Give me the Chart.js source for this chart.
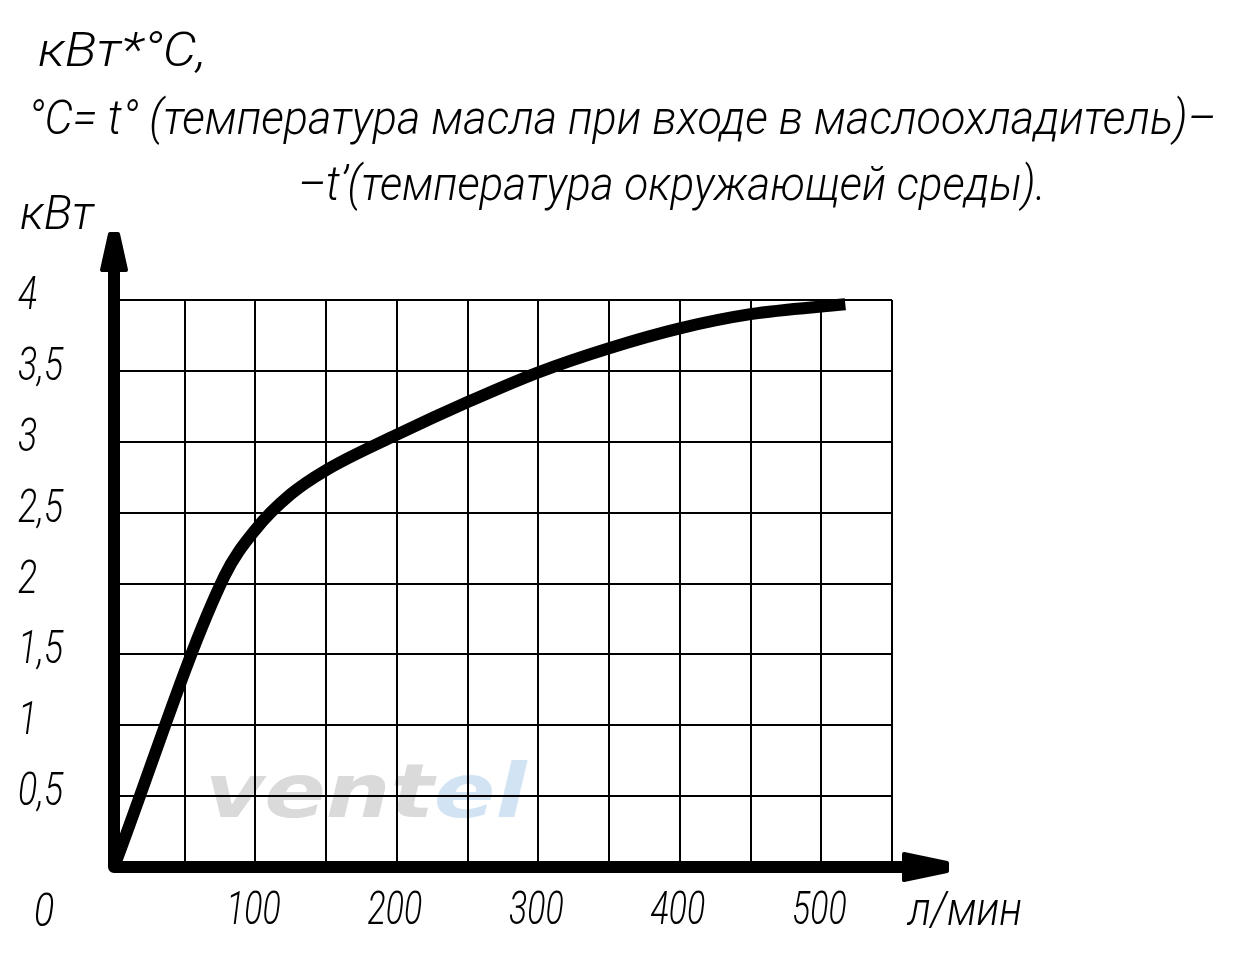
<!DOCTYPE html>
<html>
<head>
<meta charset="utf-8">
<script src="https://cdn.jsdelivr.net/npm/chart.js@4.4.1/dist/chart.umd.min.js"></script>
<style>
  body { margin: 0; background: #fff; }
  #wrap { position: relative; width: 1245px; height: 955px; overflow: hidden; }
  #chart { position: absolute; left: 0; top: 0; }
  .lbl {
    position: absolute; white-space: nowrap;
    font-family: Roboto, 'DejaVu Sans', sans-serif;
    font-style: italic; font-weight: 300;
    font-size: 48px; line-height: 48px; color: #000;
    transform-origin: 0 0;
  }
  #wm {
    position: absolute; white-space: nowrap;
    font-family: 'DejaVu Sans', sans-serif; font-style: italic; font-weight: 900;
    font-size: 75px; line-height: 75px; transform-origin: 0 0;
  }
</style>
</head>
<body>
<div id="wrap">
  <div id="wm"><span style="color:#dadada">vent</span><span style="color:#d2e4f3">el</span></div>
  <canvas id="chart" width="1245" height="955"></canvas>
  <div class="lbl" id="t1"></div>
  <div class="lbl" id="t2"></div>
  <div class="lbl" id="t3"></div>
  <div class="lbl" id="yunit"></div>
  <div class="lbl" id="xunit"></div>
</div>
<script>
// flow, l/min
var flowLpm = [0, 78, 100, 125, 150, 200, 250, 300, 350, 400, 450, 517];
// heat removed, kW*°C
var powerKw = [0, 2.05, 2.38, 2.63, 2.80, 3.05, 3.28, 3.49, 3.66, 3.80, 3.90, 3.97];

var xTickValues = [100, 200, 300, 400, 500];
var xTickLabels = ['100', '200', '300', '400', '500'];
var yTickValues = [0.5, 1, 1.5, 2, 2.5, 3, 3.5, 4];
var yTickLabels = ['0,5', '1', '1,5', '2', '2,5', '3', '3,5', '4'];
var zeroLabel = '0';

var titleLines = [
  'кВт*°С,',
  '°С= t° (температура масла при входе в маслоохладитель)–',
  '–t’(температура окружающей среды).'
];
var yUnit = 'кВт';
var xUnit = 'л/мин';

// put an html label at left x / baseline y and squeeze it to a given width
function placeLabel(id, text, x, baseline, width) {
  var el = document.getElementById(id);
  el.textContent = text;
  el.style.left = x + 'px';
  el.style.top = (baseline - 40) + 'px';
  el.style.transform = 'scaleX(' + (width / el.offsetWidth) + ')';
}

placeLabel('t1', titleLines[0], 38, 66, 168);
placeLabel('t2', titleLines[1], 28, 134, 1188);
placeLabel('t3', titleLines[2], 298, 200, 748);
placeLabel('yunit', yUnit, 20, 229, 74);
placeLabel('xunit', xUnit, 908, 925, 114);

var wm = document.getElementById('wm');
wm.style.left = '205px';
wm.style.top = '754px';
wm.style.transform = 'scaleX(' + (322 / wm.offsetWidth) + ')';

function drawSqueezed(ctx, text, x, y, sx, align) {
  ctx.save();
  ctx.translate(x, y);
  ctx.scale(sx, 1);
  ctx.textAlign = align;
  ctx.fillText(text, 0, 0);
  ctx.restore();
}

// thick axes with arrow heads + tick numbers
var axesPlugin = {
  id: 'axes',
  afterDatasetsDraw: function(chart) {
    var ctx = chart.ctx;
    var xs = chart.scales.x, ys = chart.scales.y;
    var x0 = xs.getPixelForValue(0), y0 = ys.getPixelForValue(0);
    var top = ys.top, right = xs.right;

    ctx.save();
    ctx.strokeStyle = '#000';
    ctx.fillStyle = '#000';
    ctx.lineWidth = 12;
    ctx.lineJoin = 'round';
    ctx.lineCap = 'butt';
    ctx.beginPath();
    ctx.moveTo(x0, top - 30);
    ctx.lineTo(x0, y0);
    ctx.lineTo(right + 12, y0);
    ctx.stroke();

    ctx.lineWidth = 4;
    // up arrow
    ctx.beginPath();
    ctx.moveTo(x0 - 12, top - 30);
    ctx.lineTo(x0 + 12, top - 30);
    ctx.lineTo(x0 + 4, top - 66);
    ctx.lineTo(x0 - 4, top - 66);
    ctx.closePath();
    ctx.fill();
    ctx.stroke();
    // right arrow
    ctx.beginPath();
    ctx.moveTo(right + 12, y0 - 13);
    ctx.lineTo(right + 55, y0 - 4);
    ctx.lineTo(right + 55, y0 + 4);
    ctx.lineTo(right + 12, y0 + 13);
    ctx.closePath();
    ctx.fill();
    ctx.stroke();

    ctx.font = 'italic 300 47px Roboto, "DejaVu Sans", sans-serif';
    ctx.textBaseline = 'alphabetic';
    yTickValues.forEach(function(v, i) {
      drawSqueezed(ctx, yTickLabels[i], 18, ys.getPixelForValue(v) + 9, 0.76, 'left');
    });
    xTickValues.forEach(function(v, i) {
      drawSqueezed(ctx, xTickLabels[i], xs.getPixelForValue(v) - 2, y0 + 57, 0.72, 'center');
    });
    drawSqueezed(ctx, zeroLabel, x0 - 70, y0 + 59, 0.8, 'center');
    ctx.restore();
  }
};

new Chart(document.getElementById('chart').getContext('2d'), {
  type: 'line',
  data: {
    datasets: [{
      data: flowLpm.map(function(f, i) { return { x: f, y: powerKw[i] }; }),
      borderColor: '#000',
      borderWidth: 12,
      borderCapStyle: 'butt',
      pointRadius: 0,
      cubicInterpolationMode: 'monotone',
      fill: false,
      clip: false
    }]
  },
  options: {
    responsive: false,
    animation: false,
    devicePixelRatio: 1,
    layout: { padding: { left: 114, right: 353, top: 300, bottom: 88 } },
    plugins: { legend: { display: false }, tooltip: { enabled: false } },
    scales: {
      x: {
        type: 'linear', min: 0, max: 550,
        ticks: { stepSize: 50, display: false },
        grid: { color: '#000', lineWidth: 2, drawTicks: false },
        border: { display: false }
      },
      y: {
        type: 'linear', min: 0, max: 4,
        ticks: { stepSize: 0.5, display: false },
        grid: { color: '#000', lineWidth: 2, drawTicks: false },
        border: { display: false }
      }
    }
  },
  plugins: [axesPlugin]
});
</script>
</body>
</html>
